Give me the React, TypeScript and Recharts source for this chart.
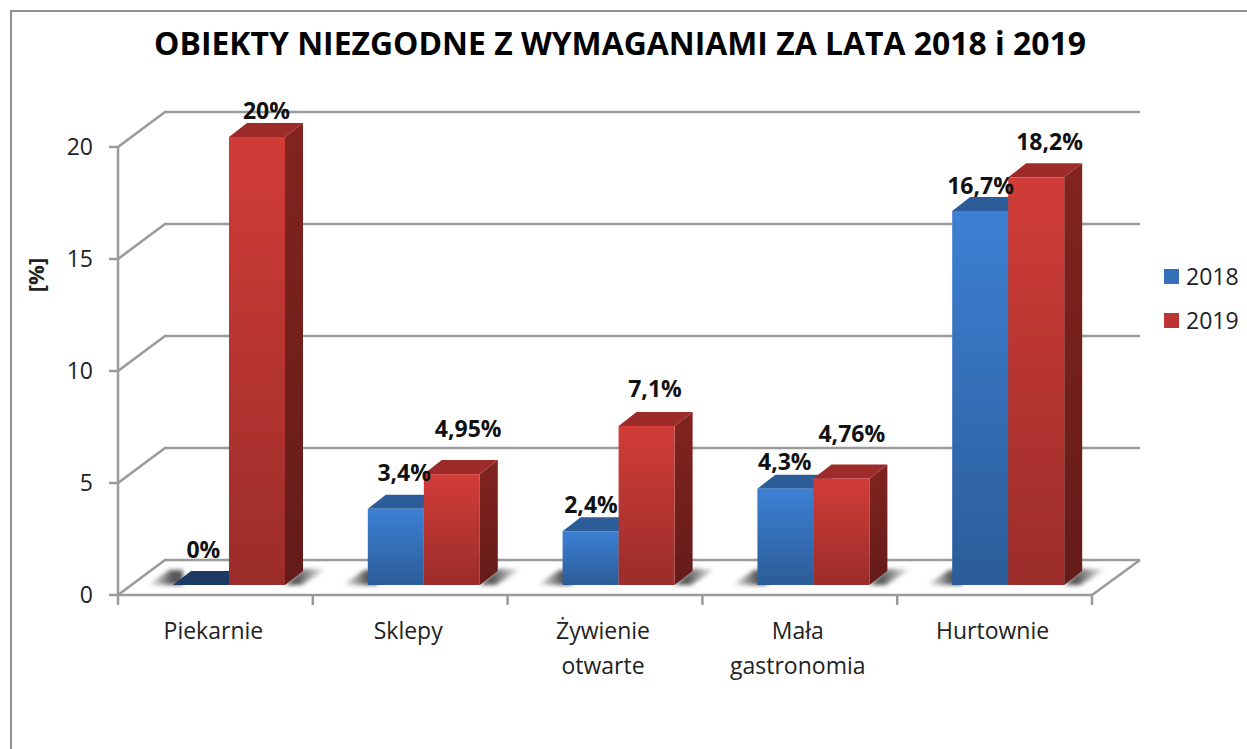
import { ComposedChart, Bar, Line, XAxis, YAxis, CartesianGrid } from 'recharts';

const FONT = '"Open Sans", sans-serif';
const AXIS = '#9a9a9a';

const categories = ['Piekarnie', 'Sklepy', 'Żywienie otwarte', 'Mała gastronomia', 'Hurtownie'];
const values2018 = [0, 3.4, 2.4, 4.3, 16.7];
const values2019 = [20, 4.95, 7.1, 4.76, 18.2];
const yTicks = [0, 5, 10, 15, 20];

// hand placed data labels, [dx, dy] from the point, same as the original
const labelOffsets2018 = [[-12, -46], [-6, -47], [-14, -37], [-15, -38], [-14, -36]];
const labelOffsets2019 = [[51, -37], [58, -56], [50, -48], [52, -55], [55, -46]];

const data = categories.map((name, i) => ({ name, v2018: values2018[i], v2019: values2019[i] }));

// 3d look of the plot
const DEPTH_X = 18;
const DEPTH_Y = 14;
const WALL_X = 47;
const WALL_Y = 35;
const SHIFT_X = 14;
const SHIFT_Y = 10;

const fmt = (v: number) => `${String(v).replace('.', ',')}%`;

function box(props: any, s: { front: string; top: string; side: string; left: boolean }) {
  const x = props.x + SHIFT_X;
  const y = props.y - SHIFT_Y;
  const w = props.width;
  const h = props.height;
  const base = y + h;
  const shadow = s.left
    ? `${x - 26},${base} ${x - 3},${base - 15} ${x + 10},${base - 15} ${x + 10},${base}`
    : `${x + w},${base} ${x + w + DEPTH_X},${base - 16} ${x + w + 42},${base - 16} ${x + w + 16},${base}`;
  const fill = s.left ? 'url(#shadowLeft)' : 'url(#shadowRight)';
  if (h === 0) {
    return (
      <g>
        <polygon points={shadow} fill={fill} filter="url(#floorBlur)" />
        <polygon points={`${x},${base} ${x + DEPTH_X},${base - DEPTH_Y} ${x + w + DEPTH_X},${base - DEPTH_Y} ${x + w},${base}`} fill="#1c3a63" />
      </g>
    );
  }
  return (
    <g>
      <polygon points={shadow} fill={fill} filter="url(#floorBlur)" />
      <polygon points={`${x + w},${y} ${x + w + DEPTH_X},${y - DEPTH_Y} ${x + w + DEPTH_X},${base - DEPTH_Y} ${x + w},${base}`} fill={s.side} />
      <polygon points={`${x},${y} ${x + DEPTH_X},${y - DEPTH_Y} ${x + w + DEPTH_X},${y - DEPTH_Y} ${x + w},${y}`} fill={s.top} />
      <rect x={x} y={y} width={w} height={h} fill={s.front} />
    </g>
  );
}

const BlueBar = (props: any) => box(props, { front: 'url(#blueFront)', top: '#2c5d98', side: '#1f4270', left: true });
const RedBar = (props: any) => box(props, { front: 'url(#redFront)', top: '#9c2b29', side: 'url(#redSide)', left: false });

function GridLine(props: any) {
  const { x1, x2, y1 } = props;
  const isFloor = Math.abs(y1 - 595) < 1;
  return (
    <g fill="none" stroke={AXIS} strokeWidth={2.5}>
      <polyline points={`${x1},${y1} ${x1 + WALL_X},${y1 - WALL_Y} ${x2 + WALL_X + 1},${y1 - WALL_Y}`} />
      {isFloor && <line x1={x2} y1={y1} x2={x2 + WALL_X + 1} y2={y1 - WALL_Y} />}
    </g>
  );
}

function CategoryTick(props: any) {
  const { x, y, payload, index } = props;
  const band = 974 / categories.length;
  const words = String(payload.value).split(' ');
  return (
    <g>
      <line x1={x - band / 2} y1={y} x2={x - band / 2} y2={y + 10} stroke={AXIS} strokeWidth={2.5} />
      {index === categories.length - 1 && (
        <line x1={x + band / 2} y1={y} x2={x + band / 2} y2={y + 10} stroke={AXIS} strokeWidth={2.5} />
      )}
      {words.map((w, i) => (
        <text key={w} x={x - 2} y={y + 35 + i * 35} textAnchor="middle" dominantBaseline="central" fontFamily={FONT} fontSize={23} fill="#222">
          {w}
        </text>
      ))}
    </g>
  );
}

const valueLabel = (offsets: number[][]) => (props: any) => {
  const [dx, dy] = offsets[props.index];
  return (
    <text x={props.x + dx} y={props.y + dy} textAnchor="middle" dominantBaseline="central" fontFamily={FONT} fontWeight={700} fontSize={23} fill="#111">
      {fmt(props.value)}
    </text>
  );
};

const LegendItem = ({ label, color, top }: { label: string; color: string; top: number }) => (
  <div style={{ position: 'absolute', left: 1164, top, display: 'flex', alignItems: 'center', height: 24 }}>
    <div style={{ width: 15, height: 15, background: color, marginRight: 7 }} />
    <span style={{ fontSize: 23, color: '#222' }}>{label}</span>
  </div>
);

export default function App() {
  return (
    <div style={{ position: 'absolute', left: 0, top: 0, width: 1247, height: 749, background: '#fff', fontFamily: FONT, overflow: 'hidden' }}>
      <div style={{ position: 'absolute', left: 10, top: 10, width: 1240, height: 745, borderLeft: '2.5px solid #8f8f8f', borderTop: '2.5px solid #8f8f8f' }} />
      <div style={{ position: 'absolute', left: 0, width: 1240, top: 23, textAlign: 'center', fontWeight: 700, fontSize: 31.9, lineHeight: '40px', color: '#000', whiteSpace: 'nowrap' }}>
        OBIEKTY NIEZGODNE Z WYMAGANIAMI ZA LATA 2018 i 2019
      </div>
      <div style={{ position: 'absolute', left: 35, top: 275, transform: 'translate(-50%, -50%) rotate(-90deg)', fontWeight: 700, fontSize: 22, color: '#222' }}>[%]</div>
      <ComposedChart
        width={1247}
        height={749}
        data={data}
        margin={{ top: 147, right: 155, bottom: 0, left: 0 }}
        barSize={56}
        barGap={0}
        style={{ position: 'absolute', left: 0, top: 0 }}
      >
        <defs>
          <linearGradient id="blueFront" x1="0" y1="0" x2="0" y2="1">
            <stop offset="0%" stopColor="#3d80d4" />
            <stop offset="100%" stopColor="#2b5c98" />
          </linearGradient>
          <linearGradient id="redFront" x1="0" y1="0" x2="0" y2="1">
            <stop offset="0%" stopColor="#d13c38" />
            <stop offset="100%" stopColor="#9b2d2a" />
          </linearGradient>
          <linearGradient id="redSide" x1="0" y1="0" x2="0" y2="1">
            <stop offset="0%" stopColor="#82241f" />
            <stop offset="100%" stopColor="#641b19" />
          </linearGradient>
          <linearGradient id="shadowLeft" x1="0" y1="0" x2="1" y2="0">
            <stop offset="0%" stopColor="#555" stopOpacity={0} />
            <stop offset="70%" stopColor="#444" stopOpacity={0.9} />
          </linearGradient>
          <linearGradient id="shadowRight" x1="0" y1="0" x2="1" y2="0">
            <stop offset="30%" stopColor="#444" stopOpacity={0.9} />
            <stop offset="100%" stopColor="#555" stopOpacity={0} />
          </linearGradient>
          <filter id="floorBlur" x="-30%" y="-50%" width="160%" height="200%">
            <feGaussianBlur stdDeviation="2" />
          </filter>
        </defs>
        <CartesianGrid vertical={false} horizontal={(p: any) => <GridLine key={p.key} {...p} />} />
        <XAxis
          dataKey="name"
          height={154}
          interval={0}
          axisLine={{ stroke: AXIS, strokeWidth: 2.5 }}
          tickLine={false}
          tickSize={0}
          tickMargin={0}
          tick={CategoryTick}
        />
        <YAxis
          width={118}
          domain={[0, 20]}
          ticks={yTicks}
          axisLine={{ stroke: AXIS, strokeWidth: 2.5 }}
          tickLine={{ stroke: AXIS, strokeWidth: 2.5 }}
          tickSize={9}
          tickMargin={16}
          tick={{ fontFamily: FONT, fontSize: 23, fill: '#222' }}
        />
        <Bar dataKey="v2018" name="2018" shape={BlueBar} isAnimationActive={false} />
        <Bar dataKey="v2019" name="2019" shape={RedBar} isAnimationActive={false} />
        {/* invisible lines only carry the labels, so they sit above both bars */}
        <Line dataKey="v2018" stroke="none" dot={false} activeDot={false} label={valueLabel(labelOffsets2018)} isAnimationActive={false} />
        <Line dataKey="v2019" stroke="none" dot={false} activeDot={false} label={valueLabel(labelOffsets2019)} isAnimationActive={false} />
      </ComposedChart>
      <LegendItem label="2018" color="#3570b8" top={264} />
      <LegendItem label="2019" color="#bb3532" top={308} />
    </div>
  );
}
